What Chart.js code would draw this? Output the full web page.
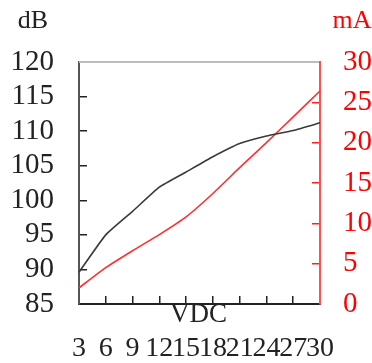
<!DOCTYPE html>
<html lang="en">
<head>
    <meta charset="UTF-8">
    <title>dB / mA vs VDC</title>
    <style>
        body {
            margin: 0;
            background-color: #fff;
        }
        .chart-box {
            position: relative;
            width: 372px;
            height: 363px;
        }
    </style>
    <script src="https://cdn.jsdelivr.net/npm/chart.js"></script>
</head>
<body>
    <div class="chart-box">
        <canvas id="chart"></canvas>
    </div>

    <script>
        // data
        const vdc = ['3', '6', '9', '12', '15', '18', '21', '24', '27', '30'];
        const soundDb = [89.6, 95.0, 98.4, 101.9, 104.1, 106.3, 108.2, 109.3, 110.1, 111.2];
        const currentMa = [2.0, 4.5, 6.6, 8.6, 10.8, 13.7, 16.9, 20.0, 23.2, 26.4];

        const serif = '"Liberation Serif", "DejaVu Serif", serif';

        // frame top line + axis captions
        const captions = {
            id: 'captions',
            afterDraw(chart) {
                const {ctx, chartArea: a, scales} = chart;
                ctx.save();
                ctx.strokeStyle = '#bdbdbd';
                ctx.lineWidth = 2;
                ctx.beginPath();
                ctx.moveTo(a.left, a.top);
                ctx.lineTo(a.right - 1, a.top);
                ctx.stroke();

                ctx.font = '26px ' + serif;
                ctx.textAlign = 'center';
                ctx.textBaseline = 'middle';
                ctx.fillStyle = '#222';
                ctx.fillText('dB', scales.yL.left + 33, 21);
                ctx.fillStyle = '#ff0000';
                ctx.fillText('mA', scales.yR.left + 32, 21);
                ctx.fillStyle = '#222';
                ctx.font = '27px ' + serif;
                ctx.fillText('VDC', (a.left + a.right) / 2 - 1, a.bottom + 11);
                ctx.restore();
            }
        };

        new Chart(document.getElementById('chart'), {
            type: 'line',
            data: {
                labels: vdc,
                datasets: [{
                    data: soundDb,
                    yAxisID: 'yL',
                    borderColor: '#3a3a3a',
                    borderWidth: 1.6,
                    pointRadius: 0,
                    tension: 0.15
                }, {
                    data: currentMa,
                    yAxisID: 'yR',
                    borderColor: '#ff3030',
                    borderWidth: 1.6,
                    pointRadius: 0,
                    tension: 0.15
                }]
            },
            options: {
                responsive: true,
                maintainAspectRatio: false,
                animation: false,
                layout: { padding: { top: 62 } },
                plugins: {
                    legend: { display: false },
                    tooltip: { enabled: false }
                },
                scales: {
                    x: {
                        grid: { drawOnChartArea: false, tickLength: -8, color: '#222', lineWidth: 1.5 },
                        border: { color: '#222', width: 2 },
                        ticks: {
                            autoSkip: false,
                            maxRotation: 0,
                            padding: 36,
                            color: '#222',
                            font: { family: serif, size: 28 }
                        },
                        afterFit(s) { s.height = 59; }
                    },
                    yL: {
                        position: 'left',
                        min: 85,
                        max: 120,
                        grid: { drawOnChartArea: false, tickLength: -8, color: '#222', lineWidth: 1.5 },
                        border: { color: '#555', width: 2 },
                        ticks: {
                            autoSkip: false,
                            stepSize: 5,
                            padding: 33,
                            color: '#222',
                            font: { family: serif, size: 29 }
                        },
                        afterFit(s) { s.width = 79; }
                    },
                    yR: {
                        position: 'right',
                        min: 0,
                        max: 30,
                        grid: { drawOnChartArea: false, tickLength: -8, color: '#ff2020', lineWidth: 1.5 },
                        border: { color: '#ff5050', width: 2 },
                        ticks: {
                            autoSkip: false,
                            stepSize: 5,
                            padding: 31,
                            color: '#ff0000',
                            font: { family: serif, size: 29 }
                        },
                        afterFit(s) { s.width = 52; }
                    }
                }
            },
            plugins: [captions]
        });
    </script>
</body>
</html>
